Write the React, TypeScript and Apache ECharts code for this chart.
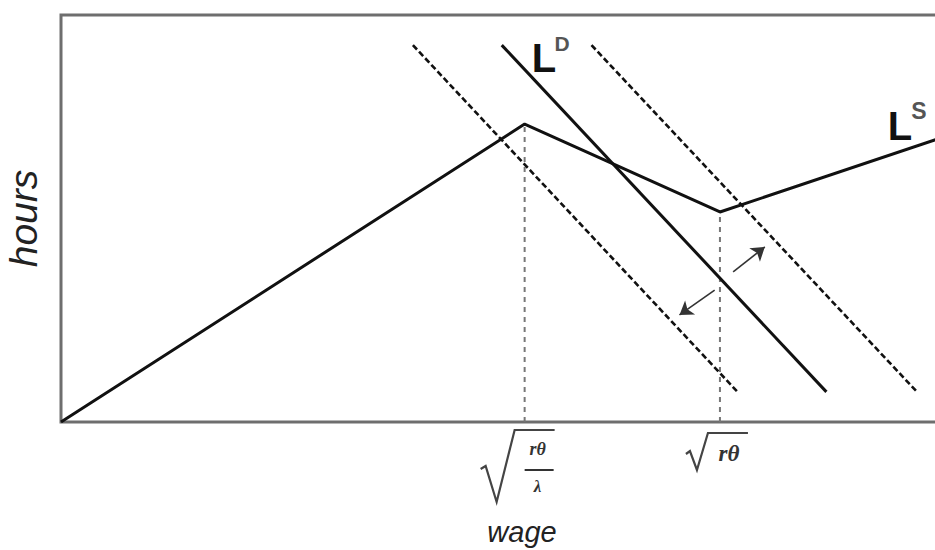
import React, { useEffect, useRef } from "react";
import * as echarts from "echarts";

// Labour supply L^S (kinked), wage on x, hours on y (arbitrary 0-100 units)
const supplyX = [0, 52.7, 74.9, 100];
const supplyY = [0, 73.2, 51.6, 69.8];

// Labour demand L^D (solid) and its shifted versions (dashed)
const demandX = [50.1, 87.0];
const demandLowX = [40.0, 76.9];
const demandHighX = [60.3, 97.3];
const demandY = [92.6, 7.4];

// Threshold wages: sqrt(rθ/λ) and sqrt(rθ)
const thresholdX = [52.7, 74.9];
const thresholdY = [73.2, 51.6];
const thresholdKinds = ["frac", "root"];

// Shift arrows (from, to)
const arrowFrom = [
  [76.4, 36.9],
  [74.3, 32.4],
];
const arrowTo = [
  [80.0, 43.0],
  [70.3, 26.3],
];

const zip = (xs: number[], ys: number[]) => xs.map((x, i) => [x, ys[i]]);

export default function App() {
  const ref = useRef<HTMLDivElement>(null);
  useEffect(() => {
    if (!ref.current) return;
    const chart = echarts.init(ref.current, null, { renderer: "svg" });
    const ink = "#111";
    const serif = '"Liberation Serif", "DejaVu Serif", serif';
    const option: any = {
      animation: false,
      backgroundColor: "#fff",
      grid: {
        left: 61,
        top: 15,
        width: 922,
        height: 407,
        show: true,
        containLabel: false,
        outerBoundsMode: "none",
        borderColor: "#6e6e6e",
        borderWidth: 3,
      },
      xAxis: {
        type: "value",
        min: 0,
        max: 104.8,
        axisLine: { show: false },
        axisTick: { show: false },
        axisLabel: { show: false },
        splitLine: { show: false },
        name: "wage",
        nameLocation: "middle",
        nameGap: 95,
        nameTextStyle: {
          fontFamily: '"Liberation Sans", Arial, sans-serif',
          fontStyle: "italic",
          fontSize: 29,
          color: "#222",
        },
      },
      yAxis: {
        type: "value",
        min: 0,
        max: 100,
        axisLine: { show: false },
        axisTick: { show: false },
        axisLabel: { show: false },
        splitLine: { show: false },
        name: "hours",
        nameLocation: "middle",
        nameRotate: 90,
        nameGap: 18,
        nameTextStyle: {
          fontFamily: '"Liberation Sans", Arial, sans-serif',
          fontStyle: "italic",
          fontSize: 39,
          color: "#222",
        },
      },
      series: [
        {
          type: "line",
          name: "vertical",
          data: [[thresholdX[0], 0], [thresholdX[0], thresholdY[0]]],
          showSymbol: false,
          lineStyle: { color: "#777", width: 2, type: [5, 5] },
        },
        {
          type: "line",
          name: "vertical2",
          data: [[thresholdX[1], 0], [thresholdX[1], thresholdY[1]]],
          showSymbol: false,
          lineStyle: { color: "#777", width: 2, type: [5, 5] },
        },
        {
          type: "line",
          name: "LD low",
          data: zip(demandLowX, demandY),
          showSymbol: false,
          lineStyle: { color: ink, width: 2.6, type: [6, 3] },
        },
        {
          type: "line",
          name: "LD high",
          data: zip(demandHighX, demandY),
          showSymbol: false,
          lineStyle: { color: ink, width: 2.6, type: [6, 3] },
        },
        {
          type: "line",
          name: "LD",
          data: zip(demandX, demandY),
          showSymbol: false,
          lineStyle: { color: ink, width: 3 },
        },
        {
          type: "line",
          name: "LS",
          data: zip(supplyX, supplyY),
          showSymbol: false,
          lineStyle: { color: ink, width: 3 },
        },
        {
          type: "lines",
          coordinateSystem: "cartesian2d",
          data: arrowFrom.map((f, i) => ({ coords: [f, arrowTo[i]] })),
          symbol: ["none", "arrow"],
          symbolSize: 13,
          lineStyle: { color: "#333", width: 1.6, opacity: 1 },
        },
        {
          type: "custom",
          clip: false,
          data: thresholdX.map((x) => [x, 0]),
          renderItem: (params: any, api: any) => {
            const kind = thresholdKinds[params.dataIndex];
            const p = api.coord([api.value(0), 0]);
            const px = p[0];
            const py = p[1];
            if (kind === "frac") {
              return {
                type: "group",
                children: [
                  {
                    type: "polyline",
                    shape: {
                      points: [
                        [px - 44, py + 47],
                        [px - 39, py + 44],
                        [px - 28, py + 80],
                        [px - 10, py + 8],
                        [px + 30, py + 8],
                      ],
                    },
                    style: { stroke: "#444", lineWidth: 2.2, fill: null },
                  },
                  {
                    type: "text",
                    style: {
                      text: "rθ",
                      x: px + 13,
                      y: py + 27,
                      align: "center",
                      verticalAlign: "middle",
                      font: `italic bold 18px ${serif}`,
                      fill: "#333",
                    },
                  },
                  {
                    type: "line",
                    shape: { x1: px, y1: py + 48, x2: px + 29, y2: py + 48 },
                    style: { stroke: "#333", lineWidth: 2 },
                  },
                  {
                    type: "text",
                    style: {
                      text: "λ",
                      x: px + 13,
                      y: py + 64,
                      align: "center",
                      verticalAlign: "middle",
                      font: `italic bold 17px ${serif}`,
                      fill: "#333",
                    },
                  },
                ],
              };
            }
            return {
              type: "group",
              children: [
                {
                  type: "polyline",
                  shape: {
                    points: [
                      [px - 34, py + 32],
                      [px - 30, py + 29],
                      [px - 23, py + 48],
                      [px - 12, py + 11],
                      [px + 28, py + 11],
                    ],
                  },
                  style: { stroke: "#444", lineWidth: 2.2, fill: null },
                },
                {
                  type: "text",
                  style: {
                    text: "rθ",
                    x: px + 9,
                    y: py + 31,
                    align: "center",
                    verticalAlign: "middle",
                    font: `italic bold 23px ${serif}`,
                    fill: "#333",
                  },
                },
              ],
            };
          },
        },
      ],
      graphic: [
        {
          type: "text",
          x: 544,
          y: 58,
          style: {
            text: "L",
            align: "center",
            verticalAlign: "middle",
            font: 'bold 40px "Liberation Sans", Arial, sans-serif',
            fill: ink,
          },
        },
        {
          type: "text",
          x: 562,
          y: 43,
          style: {
            text: "D",
            align: "center",
            verticalAlign: "middle",
            font: 'bold 21px "Liberation Sans", Arial, sans-serif',
            fill: "#555",
          },
        },
        {
          type: "text",
          x: 900,
          y: 126,
          style: {
            text: "L",
            align: "center",
            verticalAlign: "middle",
            font: 'bold 40px "Liberation Sans", Arial, sans-serif',
            fill: ink,
          },
        },
        {
          type: "text",
          x: 919,
          y: 111,
          style: {
            text: "S",
            align: "center",
            verticalAlign: "middle",
            font: 'bold 23px "Liberation Sans", Arial, sans-serif',
            fill: "#555",
          },
        },
      ],
    };
    chart.setOption(option);
    return () => chart.dispose();
  }, []);
  return <div ref={ref} style={{ width: 935, height: 550, position: "absolute", left: 0, top: 0 }} />;
}
